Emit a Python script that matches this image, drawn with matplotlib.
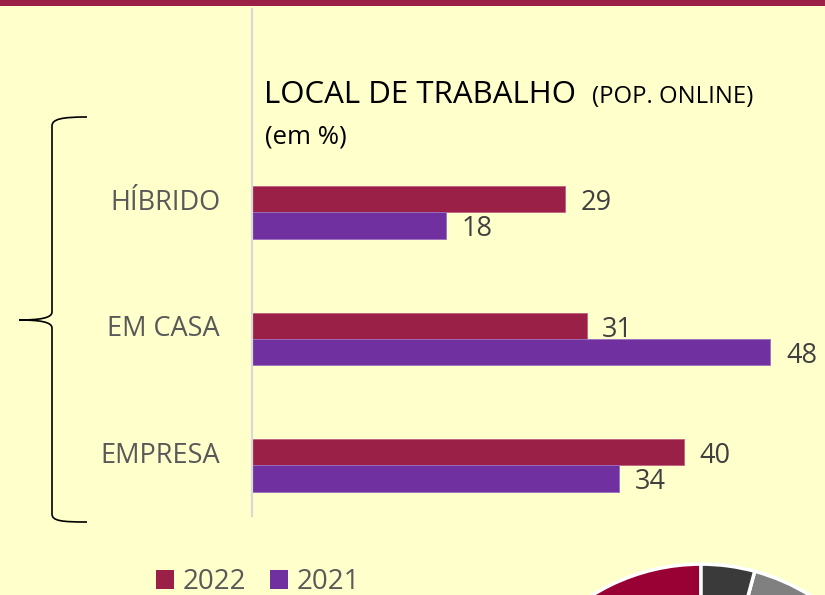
import matplotlib
matplotlib.use("Agg")
import matplotlib.pyplot as plt
from matplotlib.patches import Patch, PathPatch, Rectangle
from matplotlib.path import Path

# ---- data ----
categories = ["HÍBRIDO", "EM CASA", "EMPRESA"]
values_2022 = [29, 31, 40]
values_2021 = [18, 48, 34]
series_labels = ["2022", "2021"]
title_main = "LOCAL DE TRABALHO"
title_sub = "(POP. ONLINE)"
unit_label = "(em %)"
# partially visible pie from neighbouring chart (values estimated)
pie_values = [58.0, 37.8, 4.2]
pie_colors = ["#990033", "#808080", "#3A3A3A"]

C2022 = "#9B2048"
C2021 = "#7030A0"
BG = "#FFFFCC"

plt.rcParams['font.family'] = ['Open Sans', 'DejaVu Sans']

W, H = 825, 595
fig = plt.figure(figsize=(W / 100, H / 100), dpi=100)
fig.patch.set_facecolor(BG)

def fx(px):
    return px / W

def fy(py):
    return 1 - py / H

# ---- pie (background, bottom right) ----
pcx, pcy, pr = 701, 770, 210
pax = fig.add_axes([fx(pcx - pr), fy(pcy + pr), 2 * pr / W, 2 * pr / H])
pax.pie(pie_values, colors=pie_colors, startangle=90, counterclock=True,
        radius=1, wedgeprops=dict(edgecolor="white", linewidth=2.5))
pax.set_xlim(-1.02, 1.02)
pax.set_ylim(-1.02, 1.02)
pax.axis("off")

# ---- bar chart ----
left_px, right_px = 252, 825
top_px, bot_px = 9, 516
px_per_unit = 10.8
ax = fig.add_axes([fx(left_px), fy(bot_px), (right_px - left_px) / W, (bot_px - top_px) / H])
ax.set_facecolor("none")
ax.set_xlim(0, (right_px - left_px) / px_per_unit)

n = len(categories)
pos = [n - 1 - i for i in range(n)]  # HÍBRIDO on top
gap_px = 126.5
bar_h = 26.3 / gap_px
ax.set_ylim(-50.7 / gap_px, (n - 1) + (212.3 - top_px) / gap_px)

y22 = [p + bar_h / 2 for p in pos]
y21 = [p - bar_h / 2 for p in pos]
ax.barh(y22, values_2022, height=bar_h, color=C2022, edgecolor="#C06080", linewidth=0.6)
ax.barh(y21, values_2021, height=bar_h, color=C2021, edgecolor="#9A70C0", linewidth=0.6)

off = 15.5 / px_per_unit
base_shift = 11.0 / gap_px
for y, v in zip(y22, values_2022):
    ax.text(v + off, y - base_shift, str(v), ha="left", va="baseline", fontsize=19.5, color="#404040")
for y, v in zip(y21, values_2021):
    ax.text(v + off, y - base_shift, str(v), ha="left", va="baseline", fontsize=19.5, color="#404040")

ax.set_yticks(y22)
ax.set_yticklabels(categories, fontsize=19.5, color="#595959")
ax.tick_params(axis="y", length=0, pad=23)
ax.set_xticks([])
for s in ["top", "right", "bottom"]:
    ax.spines[s].set_visible(False)
ax.spines["left"].set_color("#D9D9D9")
ax.spines["left"].set_linewidth(1.6)

# ---- overlay (band, titles, brace) ----
ov = fig.add_axes([0, 0, 1, 1])
ov.set_xlim(0, W)
ov.set_ylim(H, 0)
ov.axis("off")
ov.set_facecolor("none")
ov.add_patch(Rectangle((0, 0), W, 6, color="#9B2048", lw=0))

ov.text(264, 103, title_main, fontsize=22.5, color="black", va="baseline", ha="left")
ov.text(592, 103, title_sub, fontsize=17.2, color="black", va="baseline", ha="left")
ov.text(265, 144, unit_label, fontsize=18.5, color="black", va="baseline", ha="left")

# curly brace
verts = [
    (87, 117), (62, 117), (52, 119), (52, 126),
    (52, 312),
    (52, 318), (40, 320), (19, 320),
    (40, 320), (52, 322), (52, 328),
    (52, 514),
    (52, 521), (62, 522), (87, 522),
]
codes = [Path.MOVETO, Path.CURVE4, Path.CURVE4, Path.CURVE4,
         Path.LINETO,
         Path.CURVE4, Path.CURVE4, Path.CURVE4,
         Path.CURVE4, Path.CURVE4, Path.CURVE4,
         Path.LINETO,
         Path.CURVE4, Path.CURVE4, Path.CURVE4]
ov.add_patch(PathPatch(Path(verts, codes), facecolor="none", edgecolor="black", lw=1.2))

# legend
handles = [Patch(facecolor=C2022, edgecolor="none"), Patch(facecolor=C2021, edgecolor="none")]
leg = fig.legend(handles, series_labels, loc="center left", bbox_to_anchor=(fx(156), fy(582)),
                 ncol=2, frameon=False, fontsize=20, handlelength=0.66, handleheight=0.66,
                 handletextpad=0.3, columnspacing=0.85, borderpad=0, borderaxespad=0)
for t in leg.get_texts():
    t.set_color("#595959")

fig.savefig("out.png", dpi=100, facecolor=BG)
